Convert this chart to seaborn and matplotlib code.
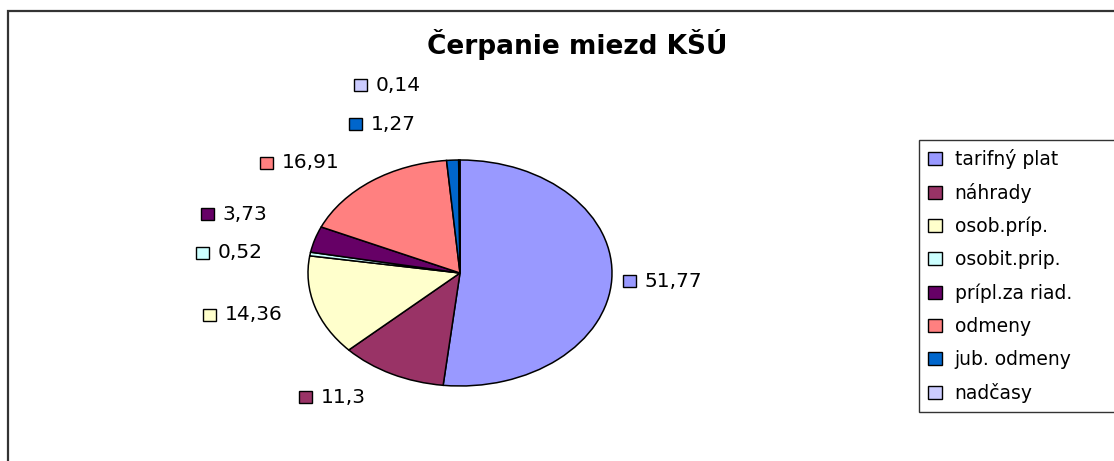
import matplotlib
matplotlib.use('Agg')
import matplotlib.pyplot as plt
import seaborn as sns
from matplotlib.patches import Rectangle
from matplotlib.offsetbox import AnnotationBbox, DrawingArea, HPacker, TextArea

# data
categories = ['tarifný plat', 'náhrady', 'osob.príp.', 'osobit.prip.',
              'prípl.za riad.', 'odmeny', 'jub. odmeny', 'nadčasy']
values = [51.77, 11.3, 14.36, 0.52, 3.73, 16.91, 1.27, 0.14]
colors = ['#9999FF', '#993366', '#FFFFCC', '#CCFFFF',
          '#660066', '#FF8080', '#0066CC', '#CCCCFF']
title = 'Čerpanie miezd KŠÚ'

# layout (pixels in the 1114x461 image)
W, H = 1114, 461
CX, CY, RX, RY = 460, 273, 152, 113
# left edge / vertical centre of each data label (Excel moved them around)
label_pos = [(623, 281), (299, 397), (203, 315), (196, 253),
             (201, 214), (260, 163), (349, 124), (354, 85)]

sns.set_theme(style='white')
plt.rcParams['font.family'] = ['DejaVu Sans']
plt.rcParams['text.color'] = 'black'

fig = plt.figure(figsize=(W / 100, H / 100), dpi=100)
fig.patch.set_facecolor('white')

# pie axes over the whole figure, limits chosen so the unit circle becomes the ellipse
ax = fig.add_axes([0, 0, 1, 1])
ax.pie(values, colors=colors, startangle=90, counterclock=False, radius=1,
       wedgeprops=dict(edgecolor='black', linewidth=1.1))
ax.set_aspect('auto')
ax.set_xlim(-CX / RX, (W - CX) / RX)
ax.set_ylim(-(H - CY) / RY, CY / RY)
ax.axis('off')

# chart area border (runs off the right and bottom)
fig.add_artist(Rectangle((8 / W, -0.5), 2, 1.5 - 11 / H, transform=fig.transFigure,
                         fill=False, edgecolor='#333333', linewidth=1.6))

fig.text(577 / W, 1 - 44 / H, title, ha='center', va='center',
         fontsize=19, fontweight='bold', color='black')

# data labels: small colour square + value with decimal comma
for val, col, (px, py) in zip(values, colors, label_pos):
    da = DrawingArea(9, 8.5, 0, 0)
    da.add_artist(Rectangle((0, 0), 9, 8.5, facecolor=col, edgecolor='black', linewidth=1))
    txt = TextArea(f'{val:g}'.replace('.', ','), textprops=dict(fontsize=14.5, color='black'))
    box = HPacker(children=[da, txt], align='center', pad=0, sep=6.5)
    ab = AnnotationBbox(box, (px / W, 1 - py / H), xycoords='figure fraction',
                        box_alignment=(0, 0.5), frameon=False, pad=0)
    fig.add_artist(ab)

# legend
handles = [Rectangle((0, 0), 1, 1, facecolor=c, edgecolor='black', linewidth=1) for c in colors]
leg = fig.legend(handles, categories, loc='upper left',
                 bbox_to_anchor=(919 / W, 1 - 140 / H, 0.3, 0.001), mode='expand',
                 fontsize=13.5, frameon=True, fancybox=False, borderaxespad=0,
                 handlelength=0.7, handleheight=0.7, handletextpad=0.7,
                 borderpad=0.5, labelspacing=0.745, labelcolor='black')
leg.get_frame().set_edgecolor('black')
leg.get_frame().set_linewidth(1.0)

fig.savefig('out.png', dpi=100)
